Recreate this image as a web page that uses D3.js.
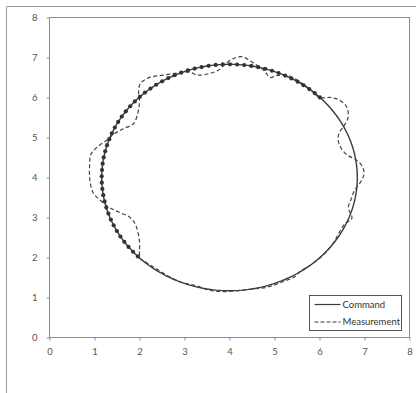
<!DOCTYPE html>
<html>
<head>
<meta charset="utf-8">
<script src="https://cdn.jsdelivr.net/npm/d3@7"></script>
<style>
    body { margin: 0; background: #fff; }
    svg { display: block; }
</style>
</head>
<body>
<div id="chart"></div>
<script>
// axis ticks
const xTicks = [0, 1, 2, 3, 4, 5, 6, 7, 8];
const yTicks = [0, 1, 2, 3, 4, 5, 6, 7, 8];

// command circle (center / radius) and angles where markers are drawn
const commandCenter = [4.0, 4.0];
const commandRadius = [2.84, 2.83];   // x, y
const markerAngles = d3.range(45, 226, 3.2);

const measX = [2.0, 2.3, 2.6, 2.95, 3.25, 3.5, 3.75, 4.1, 4.5, 4.85, 5.2, 5.45, 5.6, 5.85, 6.1, 6.3, 6.45, 6.57, 6.72,
    6.64, 6.7, 6.78, 6.92, 6.99, 6.94, 6.8, 6.62, 6.5, 6.42, 6.43, 6.55, 6.64, 6.6, 6.45, 6.25, 6.0,
    5.8, 5.55, 5.3, 5.05, 4.9, 4.78, 4.55, 4.27, 4.08, 3.9, 3.75, 3.55, 3.3, 3.12, 2.9, 2.6, 2.2,
    2.02, 1.98, 2.0, 1.97, 1.87, 1.64, 1.45, 1.27, 1.05, 0.92, 0.89, 0.9, 0.98, 1.13, 1.3, 1.55,
    1.78, 1.9, 1.96, 2.0, 2.0, 2.0];
const measY = [1.98, 1.77, 1.56, 1.37, 1.3, 1.2, 1.15, 1.16, 1.21, 1.26, 1.4, 1.52, 1.68, 1.85, 2.08, 2.35, 2.65, 2.85, 2.98,
    3.25, 3.45, 3.68, 3.9, 4.1, 4.3, 4.45, 4.56, 4.7, 4.9, 5.1, 5.3, 5.52, 5.77, 5.93, 6.0, 6.0,
    6.2, 6.4, 6.55, 6.55, 6.5, 6.66, 6.85, 7.02, 6.97, 6.83, 6.68, 6.6, 6.56, 6.63, 6.62, 6.57, 6.49,
    6.35, 6.15, 5.9, 5.65, 5.35, 5.22, 5.1, 4.93, 4.75, 4.58, 4.25, 3.9, 3.6, 3.43, 3.27, 3.13,
    3.01, 2.85, 2.65, 2.4, 2.15, 1.98];

const legendLabels = ["Command", "Measurement"];

const W = 416, H = 393;
const margin = {top: 17.5, left: 49.5, width: 360, height: 320};
const ink = "#3a3a3a";
const font = "Lato, 'Open Sans', 'DejaVu Sans', sans-serif";

const svg = d3.select("#chart").append("svg")
    .attr("width", W)
    .attr("height", H)
    .style("font-family", font);

// outer chart border (only top and left are in frame)
svg.append("path")
    .attr("d", `M6.5,${H} V6.5 H${W}`)
    .attr("fill", "none")
    .attr("stroke", "#9a9a9a")
    .attr("stroke-width", 1);

const x = d3.scaleLinear().domain([0, 8]).range([0, margin.width]);
const y = d3.scaleLinear().domain([0, 8]).range([margin.height, 0]);

const g = svg.append("g")
    .attr("transform", `translate(${margin.left},${margin.top})`);

// plot frame
g.append("rect")
    .attr("width", margin.width)
    .attr("height", margin.height)
    .attr("fill", "none")
    .attr("stroke", "#8c8c8c");

const xAxis = g.append("g")
    .attr("transform", `translate(0,${margin.height})`)
    .call(d3.axisBottom(x).tickValues(xTicks).tickSize(3).tickPadding(8).tickFormat(d3.format("d")));
const yAxis = g.append("g")
    .call(d3.axisLeft(y).tickValues(yTicks).tickSize(3).tickPadding(9).tickFormat(d3.format("d")));

[xAxis, yAxis].forEach(a => {
    a.select(".domain").remove();
    a.selectAll("line").attr("stroke", "#8c8c8c");
    a.selectAll("text").attr("fill", "#555").style("font-size", "9.5px")
        .style("font-family", font);
});

// command circle
const circlePts = d3.range(0, 361, 2).map(a => [
    commandCenter[0] + commandRadius[0] * Math.cos(a * Math.PI / 180),
    commandCenter[1] + commandRadius[1] * Math.sin(a * Math.PI / 180)
]);
const line = d3.line().x(d => x(d[0])).y(d => y(d[1]));

g.append("path")
    .datum(circlePts)
    .attr("d", line.curve(d3.curveLinear))
    .attr("fill", "none")
    .attr("stroke", ink)
    .attr("stroke-width", 1.4);

// measurement
const meas = measX.map((v, i) => [v, measY[i]]);
g.append("path")
    .datum(meas)
    .attr("d", d3.line().x(d => x(d[0])).y(d => y(d[1])).curve(d3.curveCatmullRom.alpha(0.5)))
    .attr("fill", "none")
    .attr("stroke", "#444")
    .attr("stroke-width", 1.2)
    .attr("stroke-dasharray", "4,2.5");

// command markers
g.selectAll("circle.marker")
    .data(markerAngles)
    .enter()
    .append("circle")
    .attr("class", "marker")
    .attr("cx", a => x(commandCenter[0] + commandRadius[0] * Math.cos(a * Math.PI / 180)))
    .attr("cy", a => y(commandCenter[1] + commandRadius[1] * Math.sin(a * Math.PI / 180)))
    .attr("r", 2.1)
    .attr("fill", "#333");

// legend
const lg = svg.append("g").attr("transform", "translate(309.5,295.5)");
lg.append("rect")
    .attr("width", 92)
    .attr("height", 35)
    .attr("fill", "#fff")
    .attr("stroke", "#555");
legendLabels.forEach((name, i) => {
    const ly = 9 + i * 17.5;
    lg.append("line")
        .attr("x1", 5).attr("x2", 31)
        .attr("y1", ly).attr("y2", ly)
        .attr("stroke", ink)
        .attr("stroke-width", 1.2)
        .attr("stroke-dasharray", i === 1 ? "4,2" : null);
    lg.append("text")
        .attr("x", 33)
        .attr("y", ly + 3.3)
        .attr("fill", "#333")
        .style("font-size", "9.5px")
        .text(name);
});
</script>
</body>
</html>
